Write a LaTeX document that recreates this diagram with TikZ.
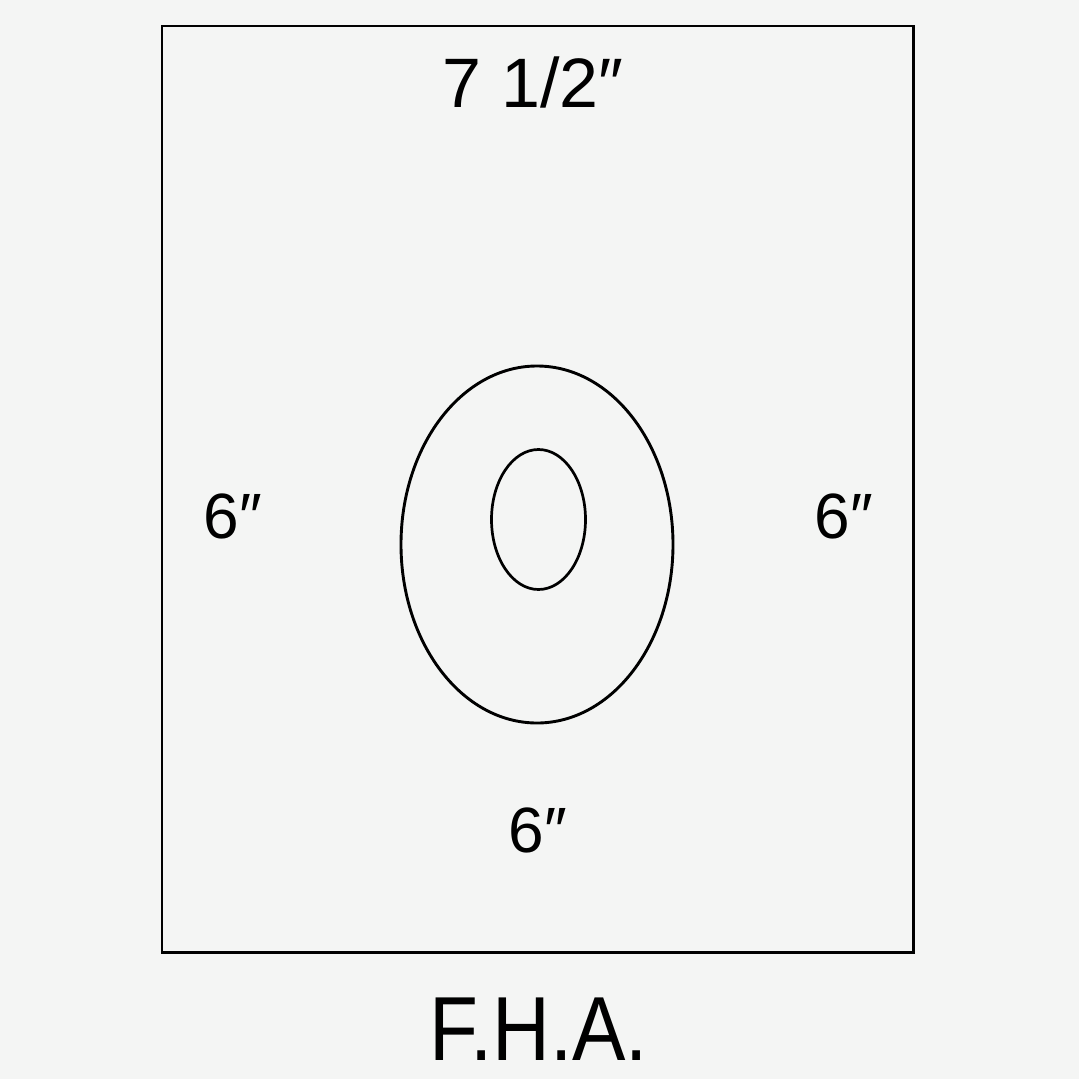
\documentclass[tikz,border=0pt]{standalone}
\usepackage{fontspec}
\setmainfont{Liberation Sans}
\begin{document}
\begin{tikzpicture}[x=1pt,y=-1pt,
  lbl/.style={inner sep=0pt,anchor=center,text=black},
  outline/.style={draw=black,line width=2.9pt}]
\definecolor{bg}{HTML}{F4F5F4}
\fill[bg] (0,0) rectangle (1079,1079);
\useasboundingbox (0,0) rectangle (1079,1079);
\draw[outline] (162,26) rectangle (913.5,952.5);
\draw[outline] (537,544.5) ellipse [x radius=136, y radius=178.5];
\draw[outline,line width=2.7pt] (538.5,519.5) ellipse [x radius=47, y radius=70];
\node[lbl,font=\fontsize{70}{70}\selectfont] (top) at (533,82) {7 1/2″};
\node[lbl,font=\fontsize{64}{64}\selectfont] (left) at (233,516) {6″};
\node[lbl,font=\fontsize{64}{64}\selectfont] (right) at (844,516) {6″};
\node[lbl,font=\fontsize{64}{64}\selectfont] (bottom) at (538,830) {6″};
\node[lbl,font=\fontsize{91}{91}\selectfont] (fha) at (539,1029) {\scalebox{0.88}[1]{F.H.A.}};
\end{tikzpicture}
\end{document}
